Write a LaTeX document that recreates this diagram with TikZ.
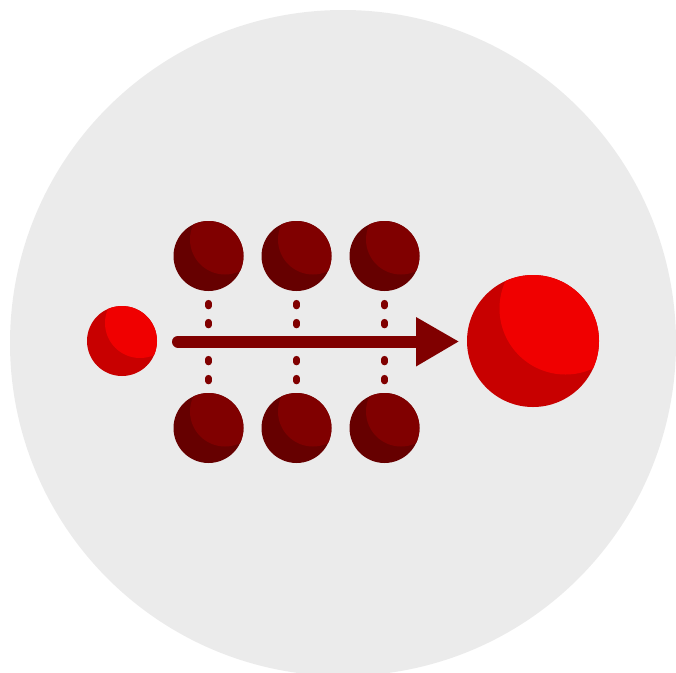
\documentclass[tikz,border=0pt]{standalone}
\definecolor{bgdisc}{HTML}{EBEBEB}
\definecolor{redlit}{HTML}{F00000}
\definecolor{redshade}{HTML}{C80000}
\definecolor{darklit}{HTML}{800000}
\definecolor{darkshade}{HTML}{660000}
\definecolor{arrowdark}{HTML}{800000}
\newcommand{\ball}[6]{%
  \fill[#4] (#1,#2) circle[radius=#3];
  \begin{scope}
    \clip (#1,#2) circle[radius=#3];
    \fill[#5] ({#1+#6},{#2-#6}) circle[radius=#3];
  \end{scope}}
\tikzset{
  dotmark/.style={line width=6.2pt,line cap=round,draw=arrowdark},
  shaftline/.style={line width=12pt,line cap=round,draw=arrowdark},
  headshape/.style={fill=arrowdark}
}
\begin{document}
\begin{tikzpicture}[x=1pt,y=-1pt]
\useasboundingbox (0,0) rectangle (676,672);
\begin{scope}
  \clip (0,0) rectangle (676,672);
  \fill[bgdisc] (343,343) circle[radius=333];
\end{scope}
\ball{122}{341}{35}{redshade}{redlit}{18}
\ball{533}{341}{66}{redshade}{redlit}{32.5}
\foreach \cx in {208.5,296.5,384.5}{
  \ball{\cx}{256}{35}{darkshade}{darklit}{16.5}
  \ball{\cx}{428}{35}{darkshade}{darklit}{16.5}
  \foreach \ya/\yb in {303/306.2,322/325.2,359/362.2,378/381.2}
    \draw[dotmark] (\cx,\ya) -- (\cx,\yb);
}
\coordinate (shaftstart) at (178,341.5);
\coordinate (headbase) at (417,341.5);
\coordinate (headtop) at (416,317);
\coordinate (headbot) at (416,366.5);
\coordinate (headtip) at (458.5,341.5);
\draw[shaftline] (shaftstart) -- (headbase);
\fill[headshape] (headtop) -- (headtip) -- (headbot) -- cycle;
\end{tikzpicture}
\end{document}
